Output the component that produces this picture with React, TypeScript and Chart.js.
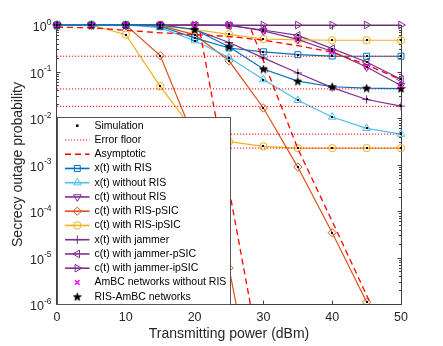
import { useEffect, useRef } from 'react';
import { Chart, registerables } from 'chart.js';
import { drawPoint } from 'chart.js/helpers';

Chart.register(...registerables);

// ---------------- data ----------------
const powerDbm = [0, 5, 10, 15, 20, 25, 30, 35, 40, 45, 50];
const xTickValues = [0, 10, 20, 30, 40, 50];
const yTickExponents = [0, -1, -2, -3, -4, -5, -6];

const xWithRis = [1, 1, 1, 0.94, 0.53, 0.32, 0.265, 0.23, 0.215, 0.213, 0.213];
const xWithoutRis = [1, 1, 1, 0.88, 0.46, 0.2, 0.067, 0.024, 0.0105, 0.006, 0.0045];
const cWithoutRis = [1, 1, 1, 1, 1, 1, 0.75, 0.49, 0.27, 0.125, 0.05];
const cRisPsic = [1, 1, 1, 0.97, 0.62, 0.17, 0.0164, 8.8e-4, 3.4e-5, 1.1e-6, null];
const cRisPsicLow = [1, 1, 1, 0.22, 3.4e-3, 6e-6, 1e-9, null, null, null, null];
const cRisIpsic = [1, 1, 1, 0.94, 0.8, 0.63, 0.5, 0.48, 0.47, 0.47, 0.47];
const cRisIpsicLow = [1, 1, 0.62, 0.048, 5e-3, 3.1e-3, 2.45e-3, 2.25e-3, 2.25e-3, 2.25e-3, 2.25e-3];
const xJammer = [1, 1, 1, 1, 0.8, 0.42, 0.196, 0.093, 0.045, 0.025, 0.018];
const cJammerPsic = [1, 1, 1, 1, 1, 0.97, 0.78, 0.6, 0.31, 0.16, 0.068];
const cJammerIpsic = [1, 1, 1, 1, 1, 1, 1, 1, 1, 1, 1];
const ambcNoRis = [1, 1, 1, 1, 1, 1, 0.75, 0.49, 0.27, 0.125, 0.05];
const risAmbc = [1, 1, 1, 1, 0.8, 0.34, 0.113, 0.062, 0.047, 0.044, 0.043];

const errorFloors = [0.213, 0.0422, 0.0178, 0.0045, 0.00225];

const asymTopP = [0, 5, 10, 15, 20, 25, 30, 35, 40, 45, 50];
const asymTopValues = [0.9, 0.87, 0.77, 0.68, 0.62, 0.57, 0.47, 0.36, 0.26, 0.14, 0.066];
const asymSteepP = [20.8, 28.1];
const asymSteepValues = [0.69, 1e-6];
const asymMidP = [28.2, 30, 35, 40, 45.6];
const asymMidValues = [0.8, 0.17, 2.2e-3, 6e-5, 1e-6];

const legendLabels = [
  'Simulation',
  'Error floor',
  'Asymptotic',
  'x(t) with RIS',
  'x(t) without RIS',
  'c(t) without RIS',
  'c(t) with RIS-pSIC',
  'c(t) with RIS-ipSIC',
  'x(t) with jammer',
  'c(t) with jammer-pSIC',
  'c(t) with jammer-ipSIC',
  'AmBC networks without RIS',
  'RIS-AmBC networks',
];
const xAxisTitle = 'Transmitting power (dBm)';
const yAxisTitle = 'Secrecy outage probability';

// ---------------- styles ----------------
const BLUE = '#0072BD';
const CYAN = '#4DBEEE';
const PURPLE = '#7E2F8E';
const ORANGE = '#D95319';
const YELLOW = '#EDB120';
const RED = '#FF0000';
const MAGENTA = '#FF00FF';
const AXIS = '#262626';
const FONT = '"Liberation Sans", Arial, Helvetica, sans-serif';

function makeStar(size: number): HTMLCanvasElement {
  const c = document.createElement('canvas');
  c.width = size;
  c.height = size;
  const ctx = c.getContext('2d')!;
  const cx = size / 2;
  const cy = size / 2 + 0.4;
  const R = size / 2 - 0.4;
  const r = R * 0.42;
  ctx.beginPath();
  for (let i = 0; i < 10; i++) {
    const a = -Math.PI / 2 + (i * Math.PI) / 5;
    const rad = i % 2 === 0 ? R : r;
    ctx.lineTo(cx + rad * Math.cos(a), cy + rad * Math.sin(a));
  }
  ctx.closePath();
  ctx.fillStyle = '#000';
  ctx.fill();
  ctx.strokeStyle = '#000';
  ctx.lineWidth = 0.8;
  ctx.stroke();
  return c;
}

type Marker = { style: any; radius: number; rotation: number };
const M = {
  square: { style: 'rect', radius: 4.2, rotation: 0 },
  triUp: { style: 'triangle', radius: 4.4, rotation: 0 },
  triDown: { style: 'triangle', radius: 4.4, rotation: 180 },
  diamond: { style: 'rectRot', radius: 4.1, rotation: 0 },
  circle: { style: 'circle', radius: 3.7, rotation: 0 },
  plus: { style: 'cross', radius: 4.2, rotation: 0 },
  triLeft: { style: 'triangle', radius: 4.4, rotation: 270 },
  triRight: { style: 'triangle', radius: 4.4, rotation: 90 },
  xMark: { style: 'crossRot', radius: 3.2, rotation: 0 },
};

const CLIP = { left: 10, right: 10, top: 10, bottom: 0 };

function pts(xs: number[], ys: (number | null)[]) {
  return xs.map((x, i) => ({ x, y: ys[i] }));
}

function curve(values: (number | null)[], color: string, m: Marker, sim = true) {
  return {
    data: pts(powerDbm, values),
    borderColor: color,
    borderWidth: 1.2,
    pointStyle: m.style,
    pointRadius: m.radius,
    pointRotation: m.rotation,
    pointBorderColor: color,
    pointBackgroundColor: 'rgba(0,0,0,0)',
    pointBorderWidth: 1,
    clip: CLIP,
    sim,
  };
}

function refLine(xs: number[], ys: number[], dash: number[], width: number) {
  return {
    data: pts(xs, ys),
    borderColor: RED,
    borderWidth: width,
    borderDash: dash,
    pointRadius: 0,
    clip: CLIP,
    sim: false,
  };
}

function buildDatasets(star: HTMLCanvasElement) {
  const ds: any[] = [];
  ds.push({
    data: pts(powerDbm, ambcNoRis),
    showLine: false,
    pointStyle: M.xMark.style,
    pointRadius: M.xMark.radius,
    pointBorderColor: MAGENTA,
    pointBackgroundColor: 'rgba(0,0,0,0)',
    pointBorderWidth: 1.5,
    clip: CLIP,
    sim: true,
  });
  ds.push({
    data: pts(powerDbm, risAmbc),
    borderColor: BLUE,
    borderWidth: 1.2,
    pointStyle: star,
    pointRadius: 4.5,
    clip: CLIP,
    sim: false,
  });
  errorFloors.forEach((v) => ds.push(refLine([0, 50], [v, v], [1.2, 1.8], 1)));
  ds.push(refLine(asymTopP, asymTopValues, [6, 4], 1.3));
  ds.push(refLine(asymSteepP, asymSteepValues, [6, 4], 1.3));
  ds.push(refLine(asymMidP, asymMidValues, [6, 4], 1.3));
  ds.push(curve(xWithRis, BLUE, M.square));
  ds.push(curve(xWithoutRis, CYAN, M.triUp));
  ds.push(curve(cWithoutRis, PURPLE, M.triDown));
  ds.push(curve(cRisPsic, ORANGE, M.diamond));
  ds.push(curve(cRisPsicLow, ORANGE, M.diamond));
  ds.push(curve(cRisIpsic, YELLOW, M.circle));
  ds.push(curve(cRisIpsicLow, YELLOW, M.circle));
  ds.push(curve(xJammer, PURPLE, M.plus));
  ds.push(curve(cJammerPsic, PURPLE, M.triLeft));
  ds.push(curve(cJammerIpsic, PURPLE, M.triRight, false));
  return ds;
}

// legend entry styles (same order as legendLabels)
function legendStyles(star: HTMLCanvasElement) {
  return [
    { kind: 'dot' },
    { kind: 'line', color: RED, dash: [1.2, 1.8], width: 1 },
    { kind: 'line', color: RED, dash: [6, 4], width: 1.4 },
    { kind: 'lm', color: BLUE, m: M.square },
    { kind: 'lm', color: CYAN, m: M.triUp },
    { kind: 'lm', color: PURPLE, m: M.triDown },
    { kind: 'lm', color: ORANGE, m: M.diamond },
    { kind: 'lm', color: YELLOW, m: M.circle },
    { kind: 'lm', color: PURPLE, m: M.plus },
    { kind: 'lm', color: PURPLE, m: M.triLeft },
    { kind: 'lm', color: PURPLE, m: M.triRight },
    { kind: 'm', color: MAGENTA, m: M.xMark, bw: 1.5 },
    { kind: 'img', img: star },
  ];
}

function drawMarker(ctx: CanvasRenderingContext2D, m: Marker, x: number, y: number, color: string, bw = 1) {
  ctx.save();
  ctx.setLineDash([]);
  ctx.strokeStyle = color;
  ctx.fillStyle = 'rgba(0,0,0,0)';
  ctx.lineWidth = bw;
  drawPoint(ctx, { pointStyle: m.style, rotation: m.rotation, radius: m.radius, borderWidth: bw } as any, x, y);
  ctx.restore();
}

const axesPlugin = {
  id: 'matlabAxes',
  beforeDatasetsDraw(chart: any) {
    const { ctx, chartArea, scales } = chart;
    const { left, right, top, bottom } = chartArea;
    const xs = scales.x;
    const ys = scales.y;
    ctx.save();
    ctx.strokeStyle = '#404040';
    ctx.lineWidth = 1;
    ctx.beginPath();
    const L = Math.round(left) - 0.5;
    const R = Math.round(right) + 0.5;
    const T = Math.round(top) + 0.5;
    const B = Math.round(bottom) + 0.5;
    ctx.moveTo(L, T);
    ctx.lineTo(R, T);
    ctx.lineTo(R, B);
    ctx.lineTo(L, B);
    ctx.closePath();
    xTickValues.forEach((v) => {
      const px = Math.round(xs.getPixelForValue(v)) + 0.5;
      ctx.moveTo(px, B);
      ctx.lineTo(px, B - 4);
      ctx.moveTo(px, T);
      ctx.lineTo(px, T + 4);
    });
    yTickExponents.forEach((e) => {
      const py = Math.round(ys.getPixelForValue(Math.pow(10, e))) + 0.5;
      ctx.moveTo(L, py);
      ctx.lineTo(L + 4, py);
      ctx.moveTo(R, py);
      ctx.lineTo(R - 4, py);
    });
    for (let e = -6; e < 0; e++) {
      for (let k = 2; k <= 9; k++) {
        const py = Math.round(ys.getPixelForValue(k * Math.pow(10, e))) + 0.5;
        ctx.moveTo(L, py);
        ctx.lineTo(L + 2.5, py);
        ctx.moveTo(R, py);
        ctx.lineTo(R - 2.5, py);
      }
    }
    ctx.stroke();
    ctx.restore();
  },
  afterDraw(chart: any) {
    const { ctx, chartArea, scales } = chart;
    const { left, right, top, bottom } = chartArea;
    const xs = scales.x;
    const ys = scales.y;
    ctx.save();
    ctx.fillStyle = AXIS;
    ctx.textBaseline = 'middle';
    ctx.font = `12.5px ${FONT}`;
    ctx.textAlign = 'center';
    xTickValues.forEach((v) => {
      ctx.fillText(String(v), xs.getPixelForValue(v), bottom + 13.5);
    });
    yTickExponents.forEach((e) => {
      const py = ys.getPixelForValue(Math.pow(10, e));
      const sup = e === 0 ? '0' : '-' + Math.abs(e);
      ctx.font = `8.5px ${FONT}`;
      const sw = ctx.measureText(sup).width;
      ctx.font = `12.5px ${FONT}`;
      const bw = ctx.measureText('10').width;
      const rightEdge = left - 5.5;
      ctx.textAlign = 'left';
      ctx.fillText('10', rightEdge - sw - bw, py + 3);
      ctx.font = `8.5px ${FONT}`;
      ctx.fillText(sup, rightEdge - sw, py - 2.5);
    });
    ctx.font = `14px ${FONT}`;
    ctx.textAlign = 'center';
    ctx.fillText(xAxisTitle, (left + right) / 2, bottom + 30.5);
    ctx.save();
    ctx.translate(18.5, (top + bottom) / 2);
    ctx.rotate(-Math.PI / 2);
    ctx.fillText(yAxisTitle, 0, 0);
    ctx.restore();
    ctx.restore();
  },
};

function makeOverlayPlugin(styles: any[]) {
  return {
    id: 'simAndLegend',
    afterDatasetsDraw(chart: any) {
      const { ctx, chartArea } = chart;
      const { left, right, top, bottom } = chartArea;
      ctx.save();
      ctx.fillStyle = '#000';
      chart.data.datasets.forEach((ds: any, i: number) => {
        if (!ds.sim) return;
        const meta = chart.getDatasetMeta(i);
        meta.data.forEach((pt: any, j: number) => {
          const raw = ds.data[j];
          if (!raw || raw.y == null) return;
          if (pt.y < top - 2 || pt.y > bottom + 1 || pt.x < left - 2 || pt.x > right + 2) return;
          ctx.fillRect(Math.round(pt.x) - 1, Math.round(pt.y) - 1, 2, 2);
        });
      });
      ctx.restore();

      const bx = Math.round(left) + 0.5;
      const by = 117.5;
      const bw = 173;
      const bh = Math.round(bottom) - 117;
      ctx.save();
      ctx.fillStyle = '#ffffff';
      ctx.fillRect(bx, by, bw, bh);
      ctx.strokeStyle = '#555555';
      ctx.lineWidth = 1;
      ctx.strokeRect(bx, by, bw, bh);
      const rowY0 = 125.7;
      const rowStep = 14.25;
      const lx0 = 65;
      const lx1 = 89.5;
      const mx = 77.3;
      const tx = 94.5;
      ctx.textBaseline = 'middle';
      ctx.textAlign = 'left';
      ctx.font = `10.5px ${FONT}`;
      legendLabels.forEach((label, i) => {
        const y = rowY0 + i * rowStep;
        const st = styles[i];
        if (st.kind === 'dot') {
          ctx.fillStyle = '#000';
          ctx.fillRect(mx - 1.25, y - 1.25, 2.5, 2.5);
        } else if (st.kind === 'line' || st.kind === 'lm') {
          ctx.save();
          ctx.strokeStyle = st.color;
          ctx.lineWidth = st.width || 1.6;
          ctx.setLineDash(st.dash || []);
          ctx.beginPath();
          ctx.moveTo(lx0, y);
          ctx.lineTo(lx1, y);
          ctx.stroke();
          ctx.restore();
          if (st.kind === 'lm') drawMarker(ctx, st.m, mx, y, st.color);
        } else if (st.kind === 'm') {
          drawMarker(ctx, st.m, mx, y, st.color, st.bw || 1);
        } else if (st.kind === 'img') {
          ctx.drawImage(st.img, mx - st.img.width / 2, y - st.img.height / 2);
        }
        ctx.fillStyle = '#000';
        ctx.fillText(label, tx, y);
      });
      ctx.restore();
    },
  };
}

export default function App() {
  const ref = useRef<HTMLCanvasElement>(null);
  useEffect(() => {
    document.body.style.margin = '0';
    const star = makeStar(9);
    const chart = new Chart(ref.current as HTMLCanvasElement, {
      type: 'line',
      data: { datasets: buildDatasets(star) as any },
      options: {
        animation: false,
        responsive: false,
        maintainAspectRatio: false,
        devicePixelRatio: 1,
        events: [],
        layout: { padding: { left: 57, right: 42, top: 25, bottom: 42 } },
        plugins: { legend: { display: false }, tooltip: { enabled: false }, title: { display: false } },
        elements: { line: { tension: 0 } },
        scales: {
          x: { type: 'linear', min: 0, max: 50, display: false },
          y: { type: 'logarithmic', min: 1e-6, max: 1, display: false },
        },
      },
      plugins: [axesPlugin, makeOverlayPlugin(legendStyles(star))],
    } as any);
    return () => chart.destroy();
  }, []);
  return (
    <div style={{ width: 443, height: 346 }}>
      <canvas ref={ref} width={443} height={346} style={{ display: 'block', width: 443, height: 346 }} />
    </div>
  );
}
